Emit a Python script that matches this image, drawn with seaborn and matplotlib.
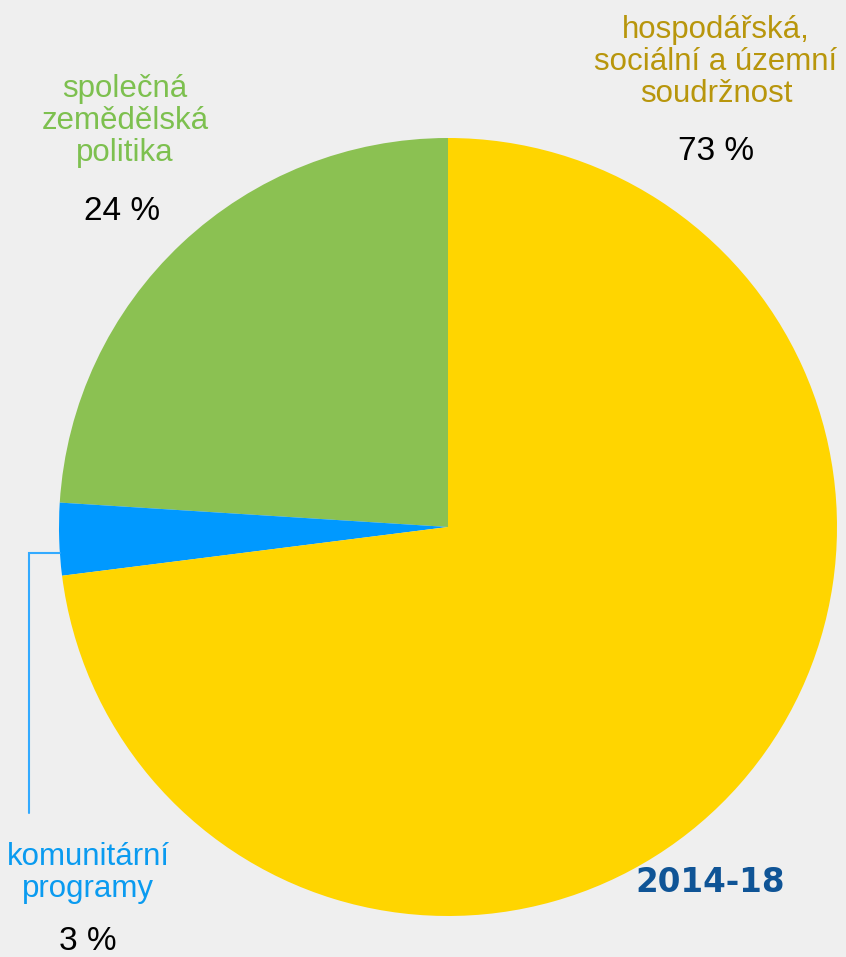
import matplotlib
matplotlib.use("Agg")
import matplotlib.pyplot as plt
import seaborn as sns

# shares of the budget, 2014-18 (%)
categories = ["společná\nzemědělská\npolitika", "komunitární\nprogramy",
              "hospodářská,\nsociální a územní\nsoudržnost"]
shares = [24, 3, 73]
share_labels = ["24 %", "3 %", "73 %"]
wedge_colors = ["#8bc152", "#0099ff", "#ffd500"]
text_colors = ["#7dc04f", "#0a9bf0", "#b8960c"]
period = "2014-18"

sns.set_theme(style="white")
plt.rcParams["font.family"] = ["Liberation Sans", "DejaVu Sans"]

W, H = 846, 957
fig = plt.figure(figsize=(W / 100, H / 100), dpi=100, facecolor="#efefef")
ax = fig.add_axes([0, 0, 1, 1])
ax.set_facecolor("#efefef")

# pie drawn in pixel coords; y axis is flipped, so -90 is the top
ax.pie(shares, colors=wedge_colors, startangle=-90, counterclock=False,
       center=(448, 527), radius=389, frame=True,
       wedgeprops=dict(linewidth=0))
ax.set_xlim(0, W)
ax.set_ylim(H, 0)
ax.set_aspect("equal")
ax.axis("off")

# category names and percentages
name_pos = [(125, 121), (88, 873), (716, 62)]
pct_pos = [(122, 212), (88, 942), (716, 152)]
for name, pct, c, (nx, ny), (px, py) in zip(categories, share_labels, text_colors,
                                             name_pos, pct_pos):
    ax.text(nx, ny, name, color=c, fontsize=22.5, ha="center", va="center",
            linespacing=1.1)
    ax.text(px, py, pct, color="black", fontsize=24, ha="center", va="center")

# connector for the small slice
ax.plot([60, 29, 29], [553, 553, 813], color="#33aaff", lw=1.5,
        solid_joinstyle="miter")

ax.text(710, 882, period, color="#0f5496", fontsize=23.5, fontweight="bold",
        ha="center", va="center", family="DejaVu Sans")

fig.savefig("out.png", dpi=100, facecolor=fig.get_facecolor())
